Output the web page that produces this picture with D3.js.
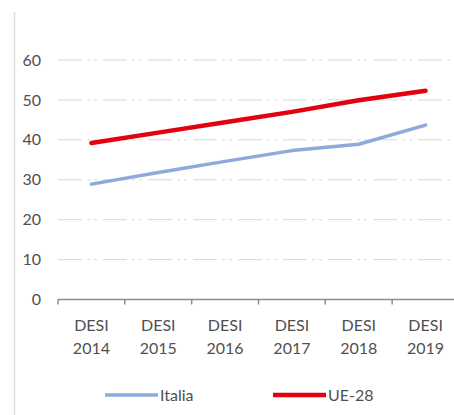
<!DOCTYPE html>
<html>
<head>
<meta charset="utf-8">
<script src="https://cdn.jsdelivr.net/npm/d3@7/dist/d3.min.js"></script>
<style>
  html, body { margin: 0; padding: 0; background: #fff; }
  svg { display: block; }
  text { font-family: Lato, "Open Sans", sans-serif; fill: #505050; }
</style>
</head>
<body>
<svg id="chart" width="454" height="415"></svg>
<script>
// DESI index, Italy vs EU-28 average
const categories = ["DESI 2014", "DESI 2015", "DESI 2016", "DESI 2017", "DESI 2018", "DESI 2019"];
const italia = [28.9, 31.8, 34.6, 37.3, 38.9, 43.7];
const ue28 = [39.2, 41.8, 44.4, 47.0, 49.9, 52.3];
const yTicks = [0, 10, 20, 30, 40, 50, 60];
const seriesNames = ["Italia", "UE-28"];
const seriesColors = ["#8eaadb", "#e3000f"];

const svg = d3.select("#chart");

const x = d3.scaleBand().domain(categories).range([58, 459]).paddingInner(0).paddingOuter(0);
const y = d3.scaleLinear().domain([0, 60]).range([299.5, 60]);
const cx = d => x(d) + x.bandwidth() / 2;

// left frame edge
svg.append("line")
  .attr("x1", 14.5).attr("x2", 14.5).attr("y1", 12).attr("y2", 415)
  .attr("stroke", "#dedede").attr("stroke-width", 1.5);

// horizontal gridlines (long dash dot dot)
svg.append("g")
  .selectAll("line")
  .data(yTicks.filter(v => v > 0))
  .join("line")
  .attr("x1", 58).attr("x2", 454)
  .attr("y1", d => y(d)).attr("y2", d => y(d))
  .attr("stroke", "#d9d9d9").attr("stroke-width", 1)
  .attr("stroke-dasharray", "24 5 3 4 3 6");

// y axis labels
const yAxis = svg.append("g")
  .attr("transform", "translate(41,0)")
  .call(d3.axisLeft(y).tickValues(yTicks).tickSize(0).tickPadding(0));
yAxis.select(".domain").remove();
yAxis.selectAll("text")
  .style("font-size", "16px")
  .style("font-family", "Lato, sans-serif")
  .attr("fill", "#505050");

// x axis
const xAxis = svg.append("g")
  .attr("transform", `translate(0,${y(0)})`)
  .call(d3.axisBottom(x).tickSize(0).tickPadding(0));
xAxis.select(".domain")
  .attr("d", `M${x.range()[0]},0H454`)
  .attr("stroke", "#8c8c8c").attr("stroke-width", 1.5);
xAxis.selectAll(".tick text").each(function(d) {
  const parts = d.split(" ");
  const t = d3.select(this).text(null)
    .attr("y", null)
    .attr("dy", null)
    .style("font-size", "16px")
    .style("font-family", "Lato, sans-serif")
    .attr("fill", "#505050");
  t.append("tspan").attr("x", 0).attr("y", 31.5).text(parts[0]);
  t.append("tspan").attr("x", 0).attr("y", 54.5).text(parts[1]);
});

// tick marks at category boundaries
xAxis.append("g")
  .selectAll("line")
  .data(categories)
  .join("line")
  .attr("x1", d => x(d)).attr("x2", d => x(d))
  .attr("y1", 0).attr("y2", 5)
  .attr("stroke", "#8c8c8c").attr("stroke-width", 1.5);

// series lines
const line = d3.line()
  .x((d, i) => cx(categories[i]))
  .y(d => y(d));

[italia, ue28].forEach((vals, i) => {
  svg.append("path")
    .datum(vals)
    .attr("d", line)
    .attr("fill", "none")
    .attr("stroke", seriesColors[i])
    .attr("stroke-width", i === 1 ? 4.5 : 3.5)
    .attr("stroke-linejoin", "round")
    .attr("stroke-linecap", "round");
});

// legend
const legendX = [105, 273];
const legend = svg.append("g");
seriesNames.forEach((name, i) => {
  legend.append("line")
    .attr("x1", legendX[i]).attr("x2", legendX[i] + 53)
    .attr("y1", 395).attr("y2", 395)
    .attr("stroke", seriesColors[i])
    .attr("stroke-width", i === 1 ? 4.5 : 3.5);
  legend.append("text")
    .attr("x", legendX[i] + 55).attr("y", 395)
    .attr("dy", "0.35em")
    .style("font-size", "16px")
    .attr("fill", "#505050")
    .text(name);
});
</script>
</body>
</html>
